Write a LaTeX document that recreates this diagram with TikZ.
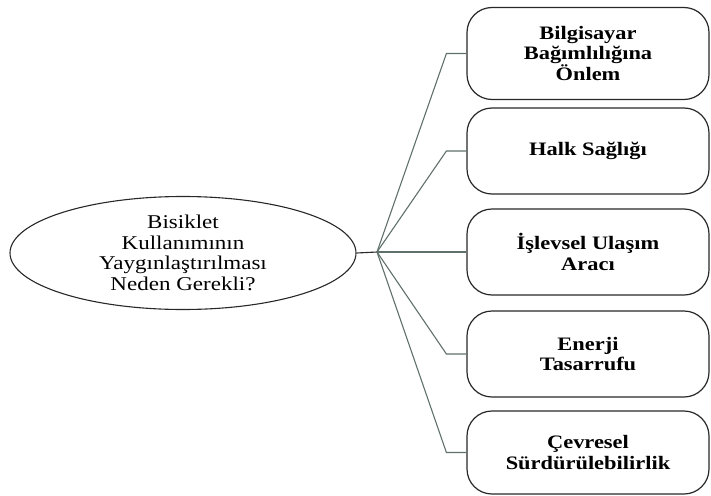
\documentclass[tikz,border=0pt]{standalone}
\usepackage{fontspec}
\setmainfont{Liberation Serif}[FakeStretch=1.18]
\usetikzlibrary{shapes.geometric}
\definecolor{bagrenk}{RGB}{96,112,106}
\definecolor{cizgi}{RGB}{40,40,40}

\begin{document}
\begin{tikzpicture}[x=1pt, y=-1pt,
  merkez/.style={ellipse, draw=cizgi, line width=1.1pt, inner sep=0pt, minimum width=346pt, minimum height=113pt, align=center, font=\fontsize{19.5}{20.7}\selectfont},
  neden/.style={rectangle, rounded corners=25pt, draw=cizgi, line width=1.2pt, inner sep=0pt, minimum width=242pt, minimum height=86pt, align=center, font=\bfseries\fontsize{19}{20.5}\selectfont},
  bag/.style={draw=bagrenk, line width=1.1pt}]

     \useasboundingbox (0,0) rectangle (711,495);

     % Ana soru (elips)
     \node[merkez] (soru) at (183,253) {Bisiklet\\Kullanımının\\Yaygınlaştırılması\\Neden Gerekli?};

     % Nedenler, yukarıdan aşağıya
     \node[neden, minimum height=92pt] (n1) at (588,53.5) {Bilgisayar\\Bağımlılığına\\Önlem};
     \node[neden] (n2) at (588,151) {Halk Sağlığı};
     \node[neden] (n3) at (588,252) {İşlevsel Ulaşım\\Aracı};
     \node[neden] (n4) at (588,354) {Enerji\\Tasarrufu};
     \node[neden, minimum height=83pt] (n5) at (588,452.5) {Çevresel\\Sürdürülebilirlik};

     % Dağılma noktası
     \coordinate (dal) at (377,252);

     % Bağlantılar
     \draw[cizgi, line width=1.1pt] (soru.east) -- (dal);
     \draw[bag] (dal) -- ([xshift=-20pt]n1.west) -- (n1.west);
     \draw[bag] (dal) -- ([xshift=-20pt]n2.west) -- (n2.west);
     \draw[bag] (dal) -- (n3.west);
     \draw[bag] (dal) -- ([xshift=-20pt]n4.west) -- (n4.west);
     \draw[bag] (dal) -- ([xshift=-20pt]n5.west) -- (n5.west);

\end{tikzpicture}
\end{document}
